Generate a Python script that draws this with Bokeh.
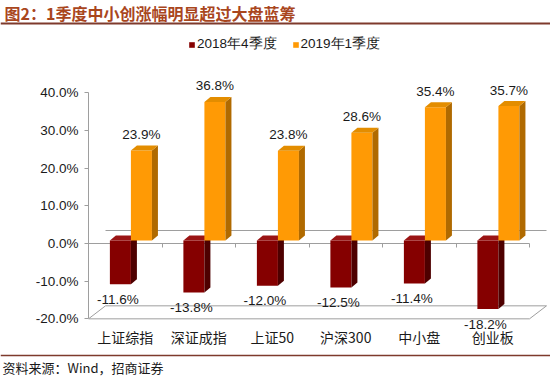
from bokeh.plotting import figure
from bokeh.models import (Range1d, LinearAxis, FixedTicker, PrintfTickFormatter, Legend,
                          LegendItem, Label, Span, ColumnDataSource)
from bokeh.layouts import column
from bokeh.core.properties import value
from bokeh.embed import file_html
from bokeh.resources import INLINE

# ---------------- data ----------------
categories = ["上证综指", "深证成指", "上证50", "沪深300", "中小盘", "创业板"]
series_names = ["2018年4季度", "2019年1季度"]
q4_2018 = [-11.6, -13.8, -12.0, -12.5, -11.4, -18.2]
q1_2019 = [23.9, 36.8, 23.8, 28.6, 35.4, 35.7]
y_ticks = [-20, -10, 0, 10, 20, 30, 40]
title_text = "图2：1季度中小创涨幅明显超过大盘蓝筹"
source_text = "资料来源：Wind，招商证券"

# ---------------- styles ----------------
W = 550
GRAY = "#9E9E9E"
RED = ("#850000", "#4E0000", "#9A1414")        # front, side, top
ORANGE = ("#FF9A05", "#B06A00", "#E38D00")
TITLE_COLOR = "#A9461D"
RULE_COLOR = "#7E3A2C"
LATIN = "Liberation Sans"
CJK = "Noto Sans CJK SC"

PX_X = 73.5          # px per category
PX_Y = 3.7667        # px per percent
LEFT = 88            # frame left inside canvas
TOP_H = 26
MAIN_H = 324
FOOT_H = 26
ZERO_FROM_TOP = 217  # canvas px of the 0% line in the main chart
WALL_DX, WALL_DY = 17 / PX_X, 13 / PX_Y
BAR_DX, BAR_DY = 6 / PX_X, 5 / PX_Y
BAR_BY = 3 / PX_Y
RED_OFF = (-0.209, 0.077)
ORA_OFF = (0.077, 0.363)
CAT_LOC = -20.1

n = len(categories)
x_end = (W - LEFT) / PX_X
y_top = ZERO_FROM_TOP / PX_Y
y_bot = -(MAIN_H - ZERO_FROM_TOP) / PX_Y

# ---------------- title strip ----------------
t = figure(width=W, height=TOP_H, x_range=Range1d(0, W), y_range=Range1d(0, TOP_H),
           x_axis_type=None, y_axis_type=None, toolbar_location=None,
           output_backend="svg", min_border=0, outline_line_color=None, frame_align=False)
t.add_layout(Label(x=4, y=TOP_H - 12.5, x_units="screen", y_units="screen", text=title_text,
                   text_font=CJK, text_font_size="16px", text_font_style="bold",
                   text_color=TITLE_COLOR, text_baseline="middle"))
t.add_layout(Span(location=TOP_H - 23, dimension="width", line_color=RULE_COLOR, line_width=2))

# ---------------- main chart ----------------
p = figure(width=W, height=MAIN_H, x_range=Range1d(0, x_end), y_range=Range1d(y_bot, y_top),
           x_axis_type=None, y_axis_type=None, toolbar_location=None, output_backend="svg",
           min_border_left=LEFT, min_border_right=0, min_border_top=0, min_border_bottom=0,
           outline_line_color=None, frame_align=False)

# floor and back wall zero line
fy = y_ticks[0]
p.patch([0, n, n + WALL_DX, WALL_DX], [fy, fy, fy + WALL_DY, fy + WALL_DY],
        fill_color=None, line_color=GRAY, line_width=1)
p.line([WALL_DX, n + WALL_DX], [WALL_DY, WALL_DY], line_color=GRAY, line_width=1)


def bar_faces(vals, off):
    front = dict(left=[], right=[], bottom=[], top=[])
    side = dict(xs=[], ys=[])
    topf = dict(xs=[], ys=[])
    for i, v in enumerate(vals):
        c = i + 0.5
        x0, x1 = c + off[0], c + off[1]
        lo, hi = BAR_BY + min(v, 0), BAR_BY + max(v, 0)
        front["left"].append(x0); front["right"].append(x1)
        front["bottom"].append(lo); front["top"].append(hi)
        side["xs"].append([x1, x1 + BAR_DX, x1 + BAR_DX, x1])
        side["ys"].append([lo, lo + BAR_DY, hi + BAR_DY, hi])
        topf["xs"].append([x0, x1, x1 + BAR_DX, x0 + BAR_DX])
        topf["ys"].append([hi, hi, hi + BAR_DY, hi + BAR_DY])
    return front, side, topf


renderers = []
for vals, off, cols in ((q4_2018, RED_OFF, RED), (q1_2019, ORA_OFF, ORANGE)):
    front, side, topf = bar_faces(vals, off)
    r = p.quad(source=ColumnDataSource(front), left="left", right="right",
               bottom="bottom", top="top", fill_color=cols[0], line_color=None)
    p.patches(source=ColumnDataSource(side), xs="xs", ys="ys", fill_color=cols[1], line_color=None)
    p.patches(source=ColumnDataSource(topf), xs="xs", ys="ys", fill_color=cols[2], line_color=None)
    renderers.append(r)

# data labels
lab_red = ColumnDataSource(dict(x=[i + 0.5 - 0.1 for i in range(n)],
                                y=[BAR_BY + v - 4.0 for v in q4_2018],
                                t=[f"{v:.1f}%" for v in q4_2018]))
lab_ora = ColumnDataSource(dict(x=[i + 0.5 + 0.22 for i in range(n)],
                                y=[BAR_BY + v + 4.25 for v in q1_2019],
                                t=[f"{v:.1f}%" for v in q1_2019]))
for src in (lab_red, lab_ora):
    p.text(source=src, x="x", y="y", text="t", text_align="center", text_baseline="middle",
           text_font=value(LATIN), text_font_size="13.5px", text_color="#1a1a1a")

# y axis
yax = LinearAxis(ticker=FixedTicker(ticks=y_ticks), formatter=PrintfTickFormatter(format="%.1f%%"),
                 bounds=(y_ticks[0], y_ticks[-1]), axis_line_color=GRAY, major_tick_line_color=GRAY,
                 major_tick_in=0, major_tick_out=4, minor_tick_line_color=None,
                 major_label_standoff=6, major_label_text_font=LATIN,
                 major_label_text_font_size="13.5px", major_label_text_color="#1a1a1a")
p.add_layout(yax, "left")

# zero line (category axis line with boundary ticks)
zax = LinearAxis(fixed_location=0, ticker=FixedTicker(ticks=list(range(n + 1))), bounds=(0, n),
                 axis_line_color=GRAY, major_tick_line_color=GRAY, major_tick_in=0, major_tick_out=4,
                 minor_tick_line_color=None, major_label_text_font_size="0px",
                 major_label_text_color=None, level="underlay")
p.add_layout(zax, "below")

# category labels
cat_ticks = [i + 0.5 for i in range(n)]
cax = LinearAxis(fixed_location=CAT_LOC, ticker=FixedTicker(ticks=cat_ticks),
                 major_label_overrides={k: c for k, c in zip(cat_ticks, categories)},
                 axis_line_color=None, major_tick_line_color=None, minor_tick_line_color=None,
                 major_label_standoff=2, major_label_text_font=CJK,
                 major_label_text_font_size="14px", major_label_text_color="#1a1a1a")
p.add_layout(cax, "below")

legend = Legend(items=[LegendItem(label=series_names[0], renderers=[renderers[0]]),
                       LegendItem(label=series_names[1], renderers=[renderers[1]])],
                orientation="horizontal", location=(100, MAIN_H - 27), glyph_width=7, glyph_height=7,
                label_standoff=2, spacing=15, padding=0, margin=0, label_height=16,
                border_line_color=None, background_fill_alpha=0,
                label_text_font=LATIN, label_text_font_size="13.5px", label_text_color="#1a1a1a")
p.add_layout(legend)

# ---------------- footer strip ----------------
f = figure(width=W, height=FOOT_H, x_range=Range1d(0, W), y_range=Range1d(0, FOOT_H),
           x_axis_type=None, y_axis_type=None, toolbar_location=None,
           output_backend="svg", min_border=0, outline_line_color=None, frame_align=False)
f.add_layout(Span(location=FOOT_H - 5, dimension="width", line_color=RULE_COLOR, line_width=1.5))
f.add_layout(Label(x=2, y=FOOT_H - 16.5, x_units="screen", y_units="screen", text=source_text,
                   text_font=CJK, text_font_size="13px", text_color="#1a1a1a",
                   text_baseline="middle"))

layout = column(t, p, f, spacing=0)
open("out.html", "w").write(file_html(layout, INLINE))
